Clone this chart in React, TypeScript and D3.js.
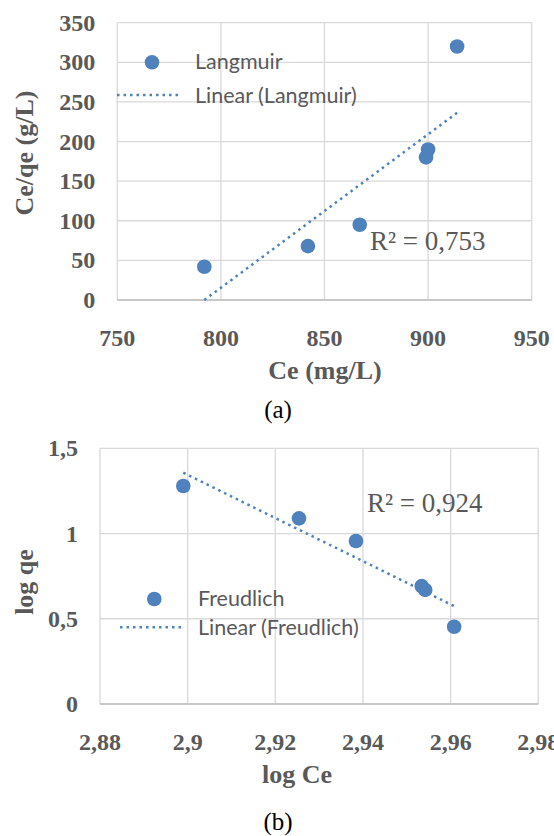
import React from 'react';
import * as d3 from 'd3';

// Langmuir isotherm (a)
const langmuirCe = [792, 842, 867, 899, 900, 914];
const langmuirCeQe = [42, 68, 95, 180, 190, 320];
const langmuirXTicks = [750, 800, 850, 900, 950];
const langmuirYTicks = [0, 50, 100, 150, 200, 250, 300, 350];

// Freundlich isotherm (b)
const freudlichLogCe = [2.899, 2.9254, 2.9384, 2.9534, 2.9542, 2.9608];
const freudlichLogQe = [1.279, 1.089, 0.956, 0.692, 0.669, 0.453];
const freudlichXTicks = [2.88, 2.9, 2.92, 2.94, 2.96, 2.98];
const freudlichYTicks = [0, 0.5, 1, 1.5];

const BLUE = '#4f81bd';
const GRID = '#d9d9d9';
const TEXT = '#595959';
const SERIF = '"Liberation Serif", "Times New Roman", serif';
const SANS = 'Lato, Carlito, Calibri, sans-serif';

const comma = (v: number) => String(v).replace('.', ',');

function linReg(xs: number[], ys: number[]) {
  const mx = d3.mean(xs) as number;
  const my = d3.mean(ys) as number;
  const sxy = d3.sum(xs, (x, i) => (x - mx) * (ys[i] - my));
  const sxx = d3.sum(xs, x => (x - mx) * (x - mx));
  const slope = sxy / sxx;
  return { slope, intercept: my - slope * mx };
}

type PanelProps = {
  xs: number[];
  ys: number[];
  xTicks: number[];
  yTicks: number[];
  box: { left: number; right: number; top: number; bottom: number };
  xTitle: string;
  xTitleX: number;
  yTitle: string;
  yTitleY: number;
  seriesName: string;
  r2: string;
  r2Pos: [number, number];
  legend: { mx: number; my: number; lx0: number; lx1: number; ly: number; tx: number };
  caption: string;
  captionY: number;
};

function Panel(p: PanelProps) {
  const { box } = p;
  const x = d3.scaleLinear()
    .domain(d3.extent(p.xTicks) as [number, number])
    .range([box.left, box.right]);
  const y = d3.scaleLinear()
    .domain(d3.extent(p.yTicks) as [number, number])
    .range([box.bottom, box.top]);

  const { slope, intercept } = linReg(p.xs, p.ys);
  const [xa, xb] = d3.extent(p.xs) as [number, number];
  const trend = d3.line<number>()
    .x(d => x(d))
    .y(d => y(slope * d + intercept))([xa, xb]);

  return (
    <g>
      {p.yTicks.map(t => (
        <line key={'gy' + t} x1={box.left} x2={box.right} y1={y(t)} y2={y(t)} stroke={GRID} strokeWidth={1.3} />
      ))}
      {p.xTicks.map(t => (
        <line key={'gx' + t} x1={x(t)} x2={x(t)} y1={box.top} y2={box.bottom} stroke={GRID} strokeWidth={1.3} />
      ))}
      <line x1={box.left} x2={box.right} y1={box.bottom} y2={box.bottom} stroke="#bfbfbf" strokeWidth={1.3} />

      {p.yTicks.map(t => (
        <text key={'ly' + t} x={box.left - 22} y={y(t) + 8} textAnchor="end"
          fontFamily={SERIF} fontWeight="bold" fontSize={24} fill={TEXT}>{comma(t)}</text>
      ))}
      {p.xTicks.map(t => (
        <text key={'lx' + t} x={x(t)} y={box.bottom + 46} textAnchor="middle"
          fontFamily={SERIF} fontWeight="bold" fontSize={24} fill={TEXT}>{comma(t)}</text>
      ))}

      <text x={p.xTitleX} y={box.bottom + 79} textAnchor="middle"
        fontFamily={SERIF} fontWeight="bold" fontSize={26} fill={TEXT}>{p.xTitle}</text>
      <text transform={`translate(33,${p.yTitleY}) rotate(-90)`} textAnchor="middle"
        fontFamily={SERIF} fontWeight="bold" fontSize={26} fill={TEXT}>{p.yTitle}</text>

      <path d={trend ?? ''} fill="none" stroke={BLUE} strokeWidth={2.5} strokeDasharray="2.5 4" />
      {p.xs.map((v, i) => (
        <circle key={'pt' + i} cx={x(v)} cy={y(p.ys[i])} r={7.3} fill={BLUE} />
      ))}

      <text x={p.r2Pos[0]} y={p.r2Pos[1]} fontFamily={SERIF} fontSize={27} fill={TEXT}>{p.r2}</text>

      <circle cx={p.legend.mx} cy={p.legend.my} r={7.3} fill={BLUE} />
      <text x={p.legend.tx} y={p.legend.my + 7} fontFamily={SANS} fontSize={21.5} fill={TEXT}>{p.seriesName}</text>
      <line x1={p.legend.lx0} x2={p.legend.lx1} y1={p.legend.ly} y2={p.legend.ly}
        stroke={BLUE} strokeWidth={2.5} strokeDasharray="2.5 4" />
      <text x={p.legend.tx} y={p.legend.ly + 7.5} fontFamily={SANS} fontSize={21.5} fill={TEXT}>{`Linear (${p.seriesName})`}</text>

      <text x={278} y={p.captionY} textAnchor="middle" fontFamily={SERIF} fontSize={25} fill="#000">{p.caption}</text>
    </g>
  );
}

export default function App() {
  return (
    <svg width={554} height={836} style={{ position: 'absolute', left: 0, top: 0, background: '#fff' }}>
      <Panel
        xs={langmuirCe}
        ys={langmuirCeQe}
        xTicks={langmuirXTicks}
        yTicks={langmuirYTicks}
        box={{ left: 117.3, right: 531.7, top: 22.7, bottom: 300 }}
        xTitle="Ce (mg/L)"
        xTitleX={325}
        yTitle="Ce/qe (g/L)"
        yTitleY={153}
        seriesName="Langmuir"
        r2="R² = 0,753"
        r2Pos={[370, 250]}
        legend={{ mx: 152, my: 62.3, lx0: 117, lx1: 182, ly: 95, tx: 195 }}
        caption="(a)"
        captionY={418}
      />
      <Panel
        xs={freudlichLogCe}
        ys={freudlichLogQe}
        xTicks={freudlichXTicks}
        yTicks={freudlichYTicks}
        box={{ left: 100, right: 538.3, top: 448.3, bottom: 704 }}
        xTitle="log Ce"
        xTitleX={297}
        yTitle="log qe"
        yTitleY={582}
        seriesName="Freudlich"
        r2="R² = 0,924"
        r2Pos={[367, 512]}
        legend={{ mx: 154.3, my: 599, lx0: 120, lx1: 184, ly: 627.3, tx: 198 }}
        caption="(b)"
        captionY={830}
      />
    </svg>
  );
}
